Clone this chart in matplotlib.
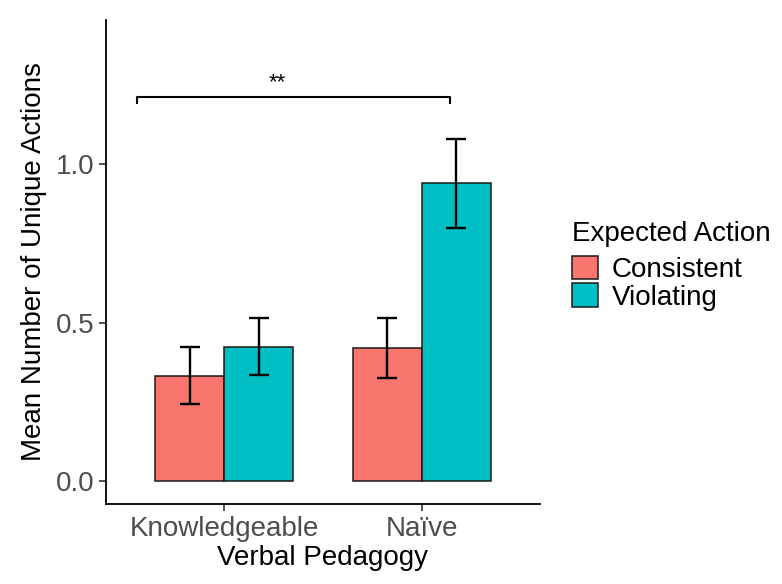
import numpy as np
import matplotlib.pyplot as plt
from matplotlib.patches import Patch

plt.rcParams['font.family'] = ['Liberation Sans', 'DejaVu Sans']

# data
groups = ['Knowledgeable', 'Naïve']
conditions = ['Consistent', 'Violating']
means_consistent = [0.332, 0.420]
means_violating = [0.424, 0.942]
lower_consistent = [0.242, 0.326]
upper_consistent = [0.423, 0.514]
lower_violating = [0.335, 0.800]
upper_violating = [0.515, 1.082]
colors = ['#F8766D', '#00BFC4']

fig = plt.figure(figsize=(7.82, 5.84), dpi=100)
ax = fig.add_axes([0.1355, 0.137, 0.555, 0.829])

x = np.arange(1, len(groups) + 1)
w = 0.35

series = [
    (means_consistent, lower_consistent, upper_consistent, -w / 2),
    (means_violating, lower_violating, upper_violating, w / 2),
]
for (m, lo, hi, off), c in zip(series, colors):
    ax.bar(x + off, m, width=w, color=c, edgecolor='#1a1a1a', linewidth=1.1, zorder=2)
    m = np.array(m)
    yerr = [m - np.array(lo), np.array(hi) - m]
    ax.errorbar(x + off, m, yerr=yerr, fmt='none', ecolor='black',
                elinewidth=1.7, capsize=7.2, capthick=1.7, zorder=3)

# significance bracket
by = 1.212
ax.plot([0.556, 0.556, 2.142, 2.142], [by - 0.022, by, by, by - 0.022],
        color='black', linewidth=1.5, solid_capstyle='butt')
ax.text(1.27, by + 0.012, '**', ha='center', va='bottom', fontsize=16)

ax.set_xlim(0.4, 2.6)
ax.set_ylim(-0.073, 1.457)
ax.set_xticks(x)
ax.set_xticklabels(groups)
ax.set_yticks([0.0, 0.5, 1.0])
ax.set_yticklabels(['0.0', '0.5', '1.0'])
ax.tick_params(labelsize=20, labelcolor='#4D4D4D', color='#333333',
               length=5, width=1.2)

ax.set_xlabel('Verbal Pedagogy', fontsize=20, labelpad=2)
ax.set_ylabel('Mean Number of Unique Actions', fontsize=20, labelpad=6)

for side in ['top', 'right']:
    ax.spines[side].set_visible(False)
for side in ['left', 'bottom']:
    ax.spines[side].set_linewidth(1.3)

handles = [Patch(facecolor=c, edgecolor='#1a1a1a', linewidth=1.1) for c in colors]
leg = fig.legend(handles, conditions, title='Expected Action',
                 loc='upper left', bbox_to_anchor=(0.717, 0.64),
                 fontsize=20, title_fontsize=20, frameon=False,
                 handlelength=0.94, handleheight=0.94, handletextpad=0.5,
                 labelspacing=0.0, borderaxespad=0, alignment='left')
leg._legend_box.sep = 6  # small gap between title and keys

fig.savefig('out.png', dpi=100)
